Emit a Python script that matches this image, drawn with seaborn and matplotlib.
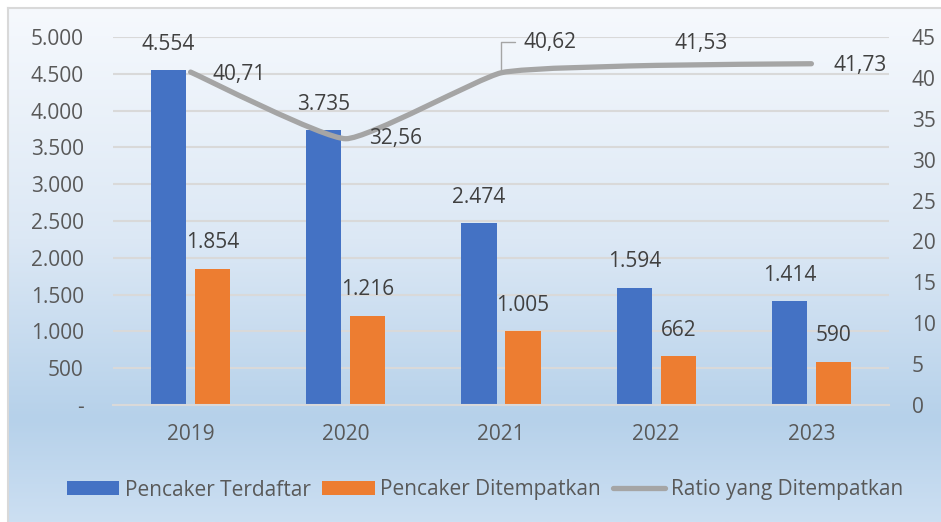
import numpy as np
import pandas as pd
import matplotlib
matplotlib.use("Agg")
import matplotlib.pyplot as plt
import seaborn as sns
from matplotlib.path import Path
from matplotlib.patches import PathPatch, Patch
from matplotlib.lines import Line2D
from matplotlib.colors import LinearSegmentedColormap

# ---- data ----
years = ["2019", "2020", "2021", "2022", "2023"]
terdaftar = [4554, 3735, 2474, 1594, 1414]
ditempatkan = [1854, 1216, 1005, 662, 590]
ratio = [40.71, 32.56, 40.62, 41.53, 41.73]
left_ticks = [0, 500, 1000, 1500, 2000, 2500, 3000, 3500, 4000, 4500, 5000]
right_ticks = [0, 5, 10, 15, 20, 25, 30, 35, 40, 45]
series_names = ["Pencaker Terdaftar", "Pencaker Ditempatkan", "Ratio yang Ditempatkan"]

BLUE = "#4472C4"
ORANGE = "#ED7D31"
GREY_LINE = "#A5A5A5"
TEXT = "#595959"
LABEL = "#404040"
GRID = "#D9D9D9"
FS = 15

plt.rcParams["font.family"] = ["Open Sans", "DejaVu Sans"]

W, H = 941, 522
fig = plt.figure(figsize=(W / 100, H / 100), dpi=100)
fig.patch.set_facecolor("white")


def fx(px):
    return px / W


def fy(py):
    return 1 - py / H


# chart-area background: soft vertical gradient with a thin frame
bg = fig.add_axes([fx(8), 0, 1 - fx(8), fy(8)], zorder=-10)
cmap = LinearSegmentedColormap.from_list(
    "bg", [(0.0, "#F6F9FD"), (0.45, "#DCE8F5"), (0.80, "#B6D1EA"), (1.0, "#CCDFF2")]
)
grad = np.linspace(0, 1, 256).reshape(-1, 1)
bg.imshow(grad, aspect="auto", cmap=cmap, extent=[0, 1, 0, 1], origin="upper")
bg.set_xlim(0, 1)
bg.set_ylim(0, 1)
bg.set_xticks([])
bg.set_yticks([])
for s in ["right", "bottom"]:
    bg.spines[s].set_visible(False)
for s in ["top", "left"]:
    bg.spines[s].set_color(GRID)
    bg.spines[s].set_linewidth(1.5)

# plotting area
ax = fig.add_axes([fx(113), fy(405), fx(889) - fx(113), fy(37) - fy(405)])
ax.set_facecolor("none")

df = pd.DataFrame({
    "Tahun": years * 2,
    "Jumlah": terdaftar + ditempatkan,
    "Seri": [series_names[0]] * len(years) + [series_names[1]] * len(years),
})
sns.barplot(data=df, x="Tahun", y="Jumlah", hue="Seri", palette=[BLUE, ORANGE],
            width=0.567, gap=0.2, saturation=1, legend=False, ax=ax, zorder=2)

ax.set_ylim(0, 5000)
ax.set_xlim(-0.5, len(years) - 0.5)
ax.set_yticks(left_ticks)
ax.set_yticklabels(["-" if v == 0 else f"{v:,}".replace(",", ".") for v in left_ticks])
ax.set_xlabel("")
ax.set_ylabel("")
ax.yaxis.grid(True, color=GRID, linewidth=1.5)
ax.xaxis.grid(False)
ax.set_axisbelow(True)
for s in ["top", "right", "left"]:
    ax.spines[s].set_visible(False)
ax.spines["bottom"].set_color(GRID)
ax.spines["bottom"].set_linewidth(1.5)
ax.tick_params(axis="y", length=0, labelsize=FS, labelcolor=TEXT, pad=21)
ax.tick_params(axis="x", length=0, labelsize=FS, labelcolor=TEXT, pad=14)

# value labels above bars
for cont, vals in zip(ax.containers, [terdaftar, ditempatkan]):
    for bar, v in zip(cont, vals):
        ax.annotate(f"{v:,}".replace(",", "."),
                    (bar.get_x() + bar.get_width() / 2, bar.get_height()),
                    xytext=(0, 18.5), textcoords="offset points",
                    ha="center", va="center", fontsize=FS, color=LABEL)

# secondary axis for the ratio line
ax2 = ax.twinx()
ax2.set_ylim(0, 45)
ax2.set_yticks(right_ticks)
ax2.set_yticklabels([str(v) for v in right_ticks])
for s in ax2.spines.values():
    s.set_visible(False)
ax2.tick_params(axis="y", length=0, labelsize=FS, labelcolor=TEXT, pad=16.5)

# smoothed ratio line (gentle cubic Bezier segments through each point)
tension = 1 / 14
xs = np.arange(len(ratio), dtype=float)
ys = np.array(ratio, dtype=float)
pts = np.column_stack([xs, ys])
ext = np.vstack([pts[0], pts, pts[-1]])
verts = [tuple(pts[0])]
codes = [Path.MOVETO]
for i in range(len(pts) - 1):
    p0, p1, p2, p3 = ext[i], ext[i + 1], ext[i + 2], ext[i + 3]
    c1 = p1 + (p2 - p0) * tension
    c2 = p2 - (p3 - p1) * tension
    verts += [tuple(c1), tuple(c2), tuple(p2)]
    codes += [Path.CURVE4] * 3
ax2.add_patch(PathPatch(Path(verts, codes), facecolor="none", edgecolor=GREY_LINE,
                        linewidth=3.8, capstyle="round", joinstyle="round", zorder=3))

# ratio value labels (offsets in pixels)
ratio_offsets = [(22, -2), (23, 0), (22, 30), (18, 22), (22, -2)]
for x, v, (dx, dy) in zip(xs, ratio, ratio_offsets):
    ax2.annotate(f"{v:.2f}".replace(".", ","), (x, v),
                 xytext=(dx * 0.72, dy * 0.72), textcoords="offset points",
                 ha="left", va="center", fontsize=FS, color=LABEL)
# leader line for the 2021 label
ax2.annotate("", (xs[2], ratio[2]), xytext=(14 * 0.72, 31 * 0.72), textcoords="offset points",
             arrowprops=dict(arrowstyle="-", color=GREY_LINE, linewidth=1,
                             connectionstyle="angle,angleA=0,angleB=90,rad=0",
                             shrinkA=0, shrinkB=0))

# legend
handles = [
    Patch(facecolor=BLUE, edgecolor="none"),
    Patch(facecolor=ORANGE, edgecolor="none"),
    Line2D([0], [0], color=GREY_LINE, linewidth=3.8, solid_capstyle="round"),
]
fig.legend(handles, series_names, loc="center", bbox_to_anchor=(fx(485), fy(490)),
           ncol=3, frameon=False, fontsize=FS, labelcolor=TEXT,
           handlelength=2.5, handleheight=0.68, handletextpad=0.28, columnspacing=0.55)

fig.savefig("out.png", dpi=100)
